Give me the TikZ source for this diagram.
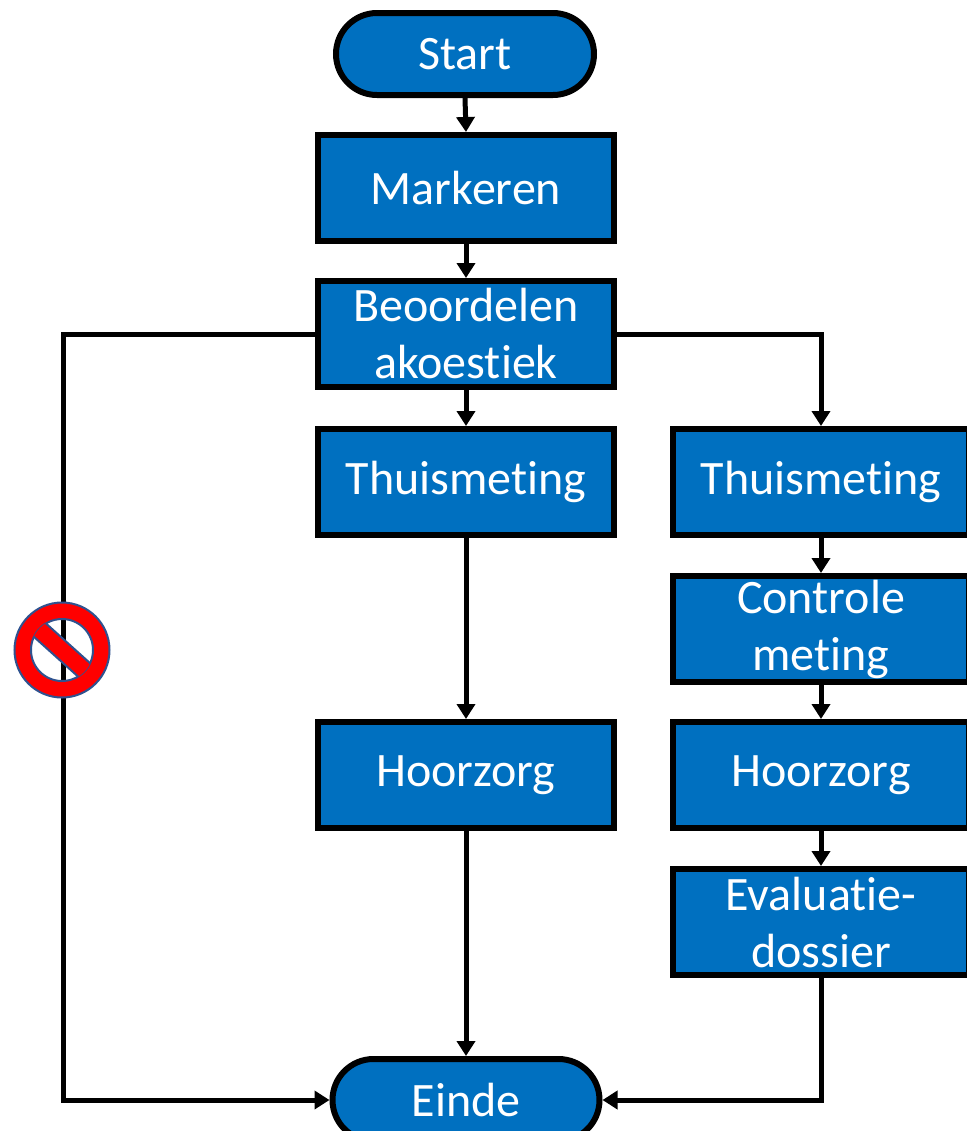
\documentclass[tikz,border=0pt]{standalone}
\usepackage{fontspec}
\setmainfont{Carlito}
\usetikzlibrary{arrows.meta}
\definecolor{boxblue}{HTML}{0070C0}
\definecolor{signred}{HTML}{FF0000}
\definecolor{signblue}{HTML}{2F528F}
\newcommand\brk{\kern0pt}
\begin{document}
\begin{tikzpicture}[x=0.5pt,y=-0.5pt,stepbox/.style={shape=rectangle,draw=black,line width=3pt,fill=boxblue,text=white,minimum width=148pt,minimum height=53pt,inner sep=1pt,align=center,font=\fontsize{24}{28.5}\selectfont},term/.style={stepbox,rounded corners=20.5pt,minimum width=129pt,minimum height=41pt},flow/.style={line width=2.5pt,-{Triangle[length=7.5pt,width=9pt]}}]
\useasboundingbox (0,0) rectangle (967,1131);
\def\xa{466};
\def\xb{821};

\node[term] (S) at (465,54) {Start};

\node[stepbox] (M) at (\xa,188) {Markeren};
\draw[flow] (S.south) -- (M.north);
\node[stepbox] (B) at (\xa,334) {Beoordelen\\akoest\brk iek};
\draw[flow] (M.south) -- (B.north);

\node[stepbox] (T1) at (\xa,482) {Thuismet\brk ing};
\draw[flow] (B.south) -- (T1.north);
\node[stepbox] (H1) at (\xa,775) {Hoorzorg};
\draw[flow] (T1.south) -- (H1.north);

\node[stepbox] (T2) at (\xb,482) {Thuismet\brk ing};
\draw[flow] (B.east) -| (T2.north);
\node[stepbox] (C2) at (\xb,629) {Controle\\met\brk ing};
\draw[flow] (T2.south) -- (C2.north);
\node[stepbox] (H2) at (\xb,775) {Hoorzorg};
\draw[flow] (C2.south) -- (H2.north);
\node[stepbox] (V2) at (\xb,922) {Evaluat\brk ie-\\dossier};
\draw[flow] (H2.south) -- (V2.north);

\node[term,minimum width=133.5pt] (E) at (466,1100) {Einde};
\draw[flow] (H1.south) -- (E.north);
\draw[flow] (V2.south) |- (E.east);
\coordinate (L) at (63,1100);
\draw[flow] (B.west) -| (L) -- (E.west);

% verbodsteken op de linker lijn
\coordinate (N) at (62,650);
\fill[signred,draw=signblue,line width=1pt,even odd rule] (N) circle[radius=23.75pt] (N) circle[radius=15.5pt];
\begin{scope}
\clip (N) circle[radius=15.6pt];
\begin{scope}[shift={(N)},rotate=-42]
\fill[signred,draw=signblue,line width=1pt] (-20pt,-4.5pt) rectangle (20pt,4.5pt);
\end{scope}
\end{scope}
\end{tikzpicture}
\end{document}
